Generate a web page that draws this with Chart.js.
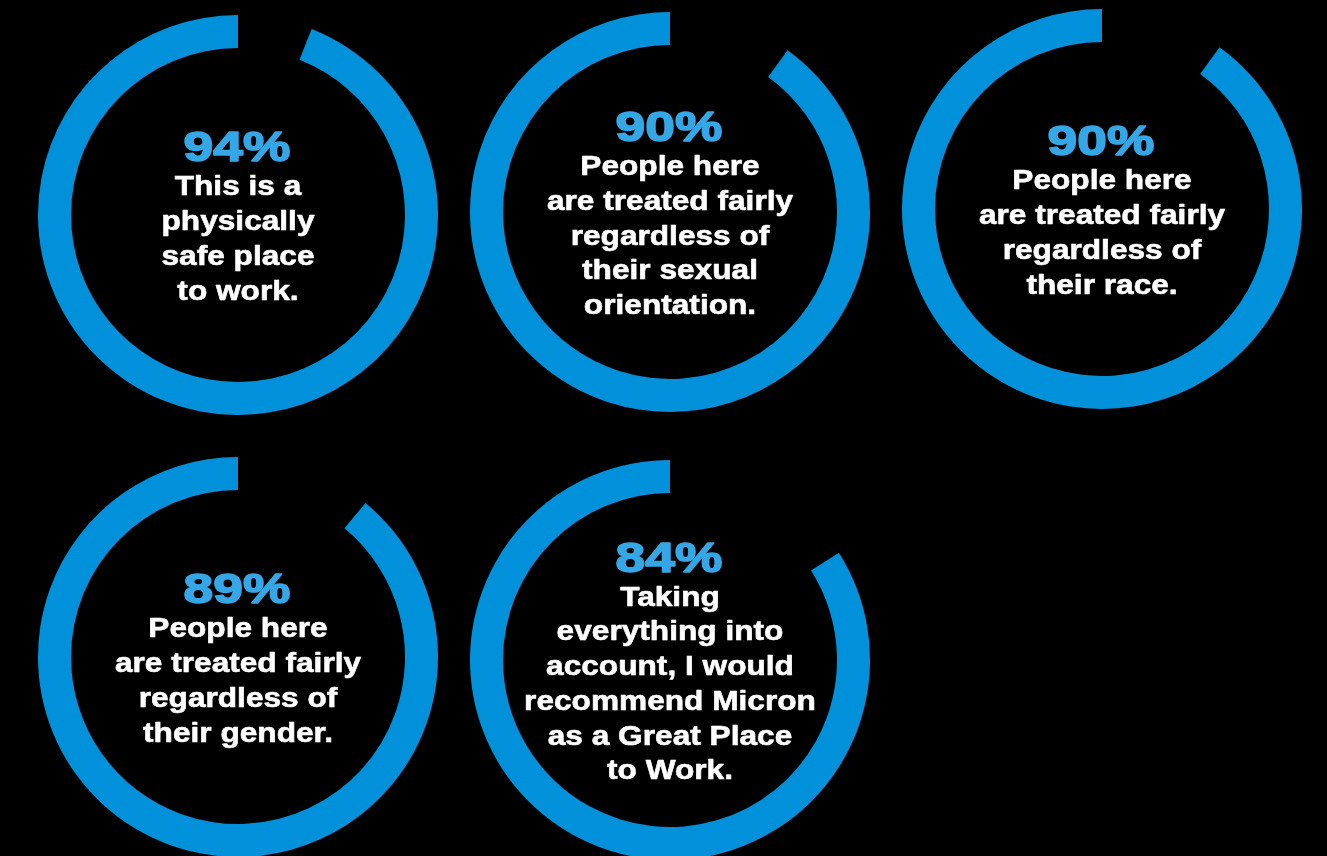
<!DOCTYPE html>
<html>
<head>
<meta charset="utf-8">
<script src="https://cdn.jsdelivr.net/npm/chart.js@4"></script>
<style>
  html, body { margin: 0; padding: 0; background: #000; }
  body { width: 1327px; height: 856px; overflow: hidden; position: relative; }
  canvas { position: absolute; }
</style>
</head>
<body>
<script>
// survey results, percent agreeing
var values = [94, 90, 90, 89, 84];
var statements = [
  ["This is a", "physically", "safe place", "to work."],
  ["People here", "are treated fairly", "regardless of", "their sexual", "orientation."],
  ["People here", "are treated fairly", "regardless of", "their race."],
  ["People here", "are treated fairly", "regardless of", "their gender."],
  ["Taking", "everything into", "account, I would", "recommend Micron", "as a Great Place", "to Work."]
];

// where each ring sits on the page
var centers = [[238, 215], [669.5, 212], [1101.5, 209], [238, 657], [670, 660]];
var ringColor = "#0091DA";
var pctColor = "#35A7E6";
var SIZE = 440;

function centerText(idx) {
  return {
    id: "centerText" + idx,
    afterDraw: function (chart) {
      var ctx = chart.ctx;
      var a = chart.chartArea;
      var cx = (a.left + a.right) / 2;
      var cy = (a.top + a.bottom) / 2;
      var lines = statements[idx];
      var total = 31 + 34 + (lines.length - 1) * 34.7;
      var pctBase = cy - total / 2 + 31;

      ctx.save();
      ctx.textAlign = "center";
      ctx.textBaseline = "alphabetic";
      ctx.lineJoin = "round";

      // big percentage, stretched to look like an extended face
      ctx.save();
      ctx.translate(cx - 1, pctBase);
      ctx.scale(1.27, 1);
      ctx.fillStyle = pctColor;
      ctx.strokeStyle = pctColor;
      ctx.lineWidth = 1.6;
      ctx.font = "bold 42px 'Liberation Sans', Arial, sans-serif";
      ctx.fillText(values[idx] + "%", 0, 0);
      ctx.strokeText(values[idx] + "%", 0, 0);
      ctx.restore();

      ctx.fillStyle = "#ffffff";
      ctx.strokeStyle = "#ffffff";
      ctx.lineWidth = 0.6;
      ctx.font = "bold 28px 'Liberation Sans', Arial, sans-serif";
      lines.forEach(function (t, i) {
        ctx.save();
        ctx.translate(cx, pctBase + 34 + i * 34.7);
        ctx.scale(1.13, 1);
        ctx.fillText(t, 0, 0);
        ctx.strokeText(t, 0, 0);
        ctx.restore();
      });
      ctx.restore();
    }
  };
}

values.forEach(function (v, i) {
  var cv = document.createElement("canvas");
  cv.width = SIZE;
  cv.height = SIZE;
  cv.style.left = (centers[i][0] - SIZE / 2) + "px";
  cv.style.top = (centers[i][1] - SIZE / 2) + "px";
  document.body.appendChild(cv);

  new Chart(cv, {
    type: "doughnut",
    data: {
      labels: ["Other", "Agree"],
      datasets: [{
        data: [100 - v, v],
        backgroundColor: ["rgba(0,0,0,0)", ringColor],
        borderWidth: 0
      }]
    },
    options: {
      responsive: false,
      animation: false,
      events: [],
      rotation: 0,
      radius: 200,
      cutout: "83.5%",
      layout: { padding: 0 },
      plugins: {
        legend: { display: false },
        tooltip: { enabled: false }
      }
    },
    plugins: [centerText(i)]
  });
});
</script>
</body>
</html>
